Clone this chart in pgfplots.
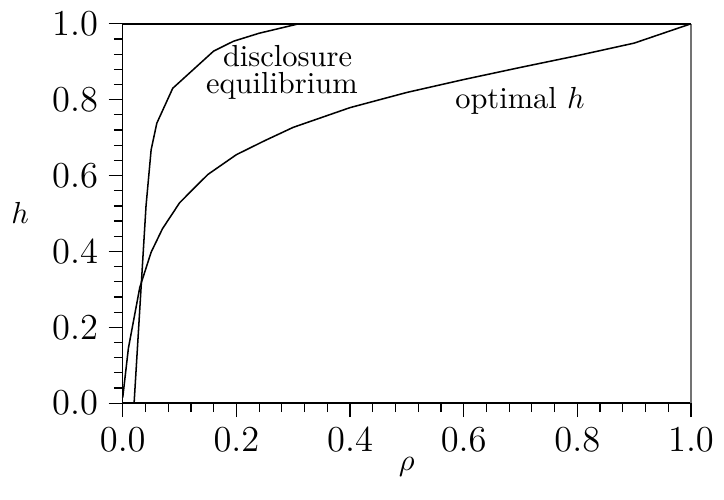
\documentclass[border=0pt]{standalone}
\usepackage{pgfplots}
\pgfplotsset{compat=1.18}
\begin{document}
\begin{tikzpicture}
\begin{axis}[
  scale only axis, width=186.6pt, height=124.6pt,
  xmin=0, xmax=1, ymin=0, ymax=1,
  axis x line*=bottom, axis y line*=left,
  x axis line style={-}, y axis line style={-},
  axis line style={line width=0.5pt},
  xtick={0,0.2,0.4,0.6,0.8,1}, ytick={0,0.2,0.4,0.6,0.8,1},
  minor x tick num=4, minor y tick num=4,
  tick align=outside,
  major tick length=4.6pt, minor tick length=2.9pt,
  tick style={black, line width=0.4pt},
  tick label style={font=\fontsize{12}{14}\selectfont},
  xticklabel style={/pgf/number format/.cd, fixed, fixed zerofill, precision=1},
  yticklabel style={/pgf/number format/.cd, fixed, fixed zerofill, precision=1},
  xlabel={$\rho$}, ylabel={$h$},
  xlabel style={at={(rel axis cs:0.5,0)}, anchor=base, yshift=-22pt},
  ylabel style={rotate=-90, at={(rel axis cs:0,0.473)}, anchor=base, xshift=-33.7pt},
  clip=false,
]
\draw[line width=0.5pt] (rel axis cs:0,1) -- (rel axis cs:1,1);
\draw[black!55, line width=0.5pt] (rel axis cs:1,1) -- (rel axis cs:1,0);
\addplot[black, line width=0.5pt] coordinates {
 (0,0) (0.02,0) (0.041,0.52) (0.05,0.668) (0.06,0.738) (0.088,0.83)
 (0.16,0.928) (0.195,0.954) (0.24,0.975) (0.31,1.0) (1,1)};
\addplot[black, line width=0.5pt] coordinates {
 (0,0.015) (0.01,0.145) (0.02,0.225) (0.03,0.305) (0.05,0.398) (0.07,0.46)
 (0.1,0.528) (0.125,0.566) (0.15,0.603) (0.2,0.655) (0.25,0.692) (0.3,0.727)
 (0.4,0.779) (0.5,0.819) (0.6,0.853) (0.7,0.885) (0.8,0.916) (0.9,0.949) (1,1)};
\node[anchor=base] at (axis cs:0.290,0.888) {disclosure};
\node[anchor=base] at (axis cs:0.280,0.816) {equilibrium};
\node[anchor=base] at (axis cs:0.699,0.777) {optimal $h$};
\end{axis}
\path (-40.3pt,-31.7pt) rectangle (194.3pt,132.4pt);
\end{tikzpicture}
\end{document}
